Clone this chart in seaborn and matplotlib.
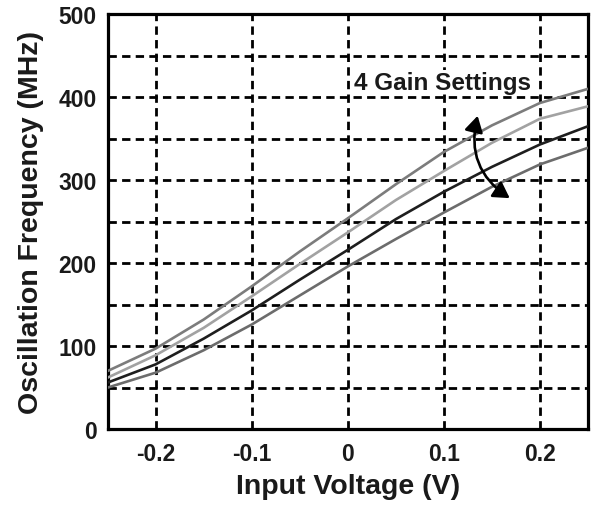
import numpy as np
import pandas as pd
import matplotlib
matplotlib.use("Agg")
import matplotlib.pyplot as plt
from matplotlib.patches import FancyArrowPatch
from matplotlib.ticker import MultipleLocator
import seaborn as sns

# ---- data ----
voltage = [-0.25, -0.2, -0.15, -0.1, -0.05, 0.0, 0.05, 0.1, 0.15, 0.2, 0.25]
gain_1 = [70, 97, 132, 172, 214, 254, 295, 334, 366, 393, 410]
gain_2 = [62, 89, 122, 160, 199, 237, 276, 311, 345, 374, 389]
gain_3 = [56, 78, 109, 143, 180, 216, 253, 286, 316, 343, 365]
gain_4 = [50, 68, 95, 126, 161, 196, 229, 261, 292, 319, 339]
series_names = ["G1", "G2", "G3", "G4"]
x_ticks = [-0.2, -0.1, 0.0, 0.1, 0.2]
x_tick_labels = ["-0.2", "-0.1", "0", "0.1", "0.2"]
y_ticks = [0, 100, 200, 300, 400, 500]
y_tick_labels = ["0", "100", "200", "300", "400", "500"]

frames = []
for name, vals in zip(series_names, [gain_1, gain_2, gain_3, gain_4]):
    frames.append(pd.DataFrame({"V": voltage, "F": vals, "gain": name}))
df = pd.concat(frames, ignore_index=True)

palette = {"G1": "#7c7c7c", "G2": "#a2a2a2", "G3": "#1e1e1e", "G4": "#6c6c6c"}

sns.set_theme(style="white")
plt.rcParams["font.family"] = ["Liberation Sans", "DejaVu Sans"]
plt.rcParams["font.weight"] = "bold"
plt.rcParams["axes.unicode_minus"] = False

fig = plt.figure(figsize=(5.91, 5.06), dpi=100)
ax = fig.add_axes([0.182, 0.150, 0.813, 0.820])

sns.lineplot(data=df, x="V", y="F", hue="gain", palette=palette,
             linewidth=1.9, legend=False, ax=ax, zorder=3)

ax.set_xlim(-0.25, 0.25)
ax.set_ylim(0, 500)
ax.set_xticks(x_ticks)
ax.set_xticklabels(x_tick_labels)
ax.set_yticks(y_ticks)
ax.set_yticklabels(y_tick_labels)
ax.yaxis.set_minor_locator(MultipleLocator(50))

grid_style = dict(color="black", linewidth=2.0, linestyle=(0, (3, 1.9)))
ax.grid(True, which="major", axis="both", **grid_style)
ax.grid(True, which="minor", axis="y", **grid_style)

ax.tick_params(axis="both", which="both", length=0, labelsize=16.5)
ax.tick_params(axis="y", pad=8)
ax.tick_params(axis="x", pad=9)
for lab in ax.get_xticklabels() + ax.get_yticklabels():
    lab.set_fontweight("bold")
    lab.set_color("#1a1a1a")

for sp in ax.spines.values():
    sp.set_visible(True)
    sp.set_color("black")
    sp.set_linewidth(2.3)

ax.set_xlabel("Input Voltage (V)", fontsize=20.5, fontweight="bold",
              color="#1a1a1a", labelpad=6)
ax.set_ylabel("Oscillation Frequency (MHz)", fontsize=20.5, fontweight="bold",
              color="#1a1a1a", labelpad=10)

ax.text(0.0066, 418, "4 Gain Settings", fontsize=17.5, fontweight="bold",
        color="#1a1a1a", ha="left", va="center", zorder=5,
        bbox=dict(facecolor="white", edgecolor="none", pad=0.3))

arrow = FancyArrowPatch((0.1351, 377.5), (0.1685, 278.3),
                        connectionstyle="arc3,rad=0.35",
                        arrowstyle="<|-|>,head_length=0.6,head_width=0.35",
                        mutation_scale=16,
                        color="black", linewidth=1.9, zorder=6,
                        shrinkA=0, shrinkB=0)
ax.add_patch(arrow)

fig.savefig("out.png", dpi=100)
